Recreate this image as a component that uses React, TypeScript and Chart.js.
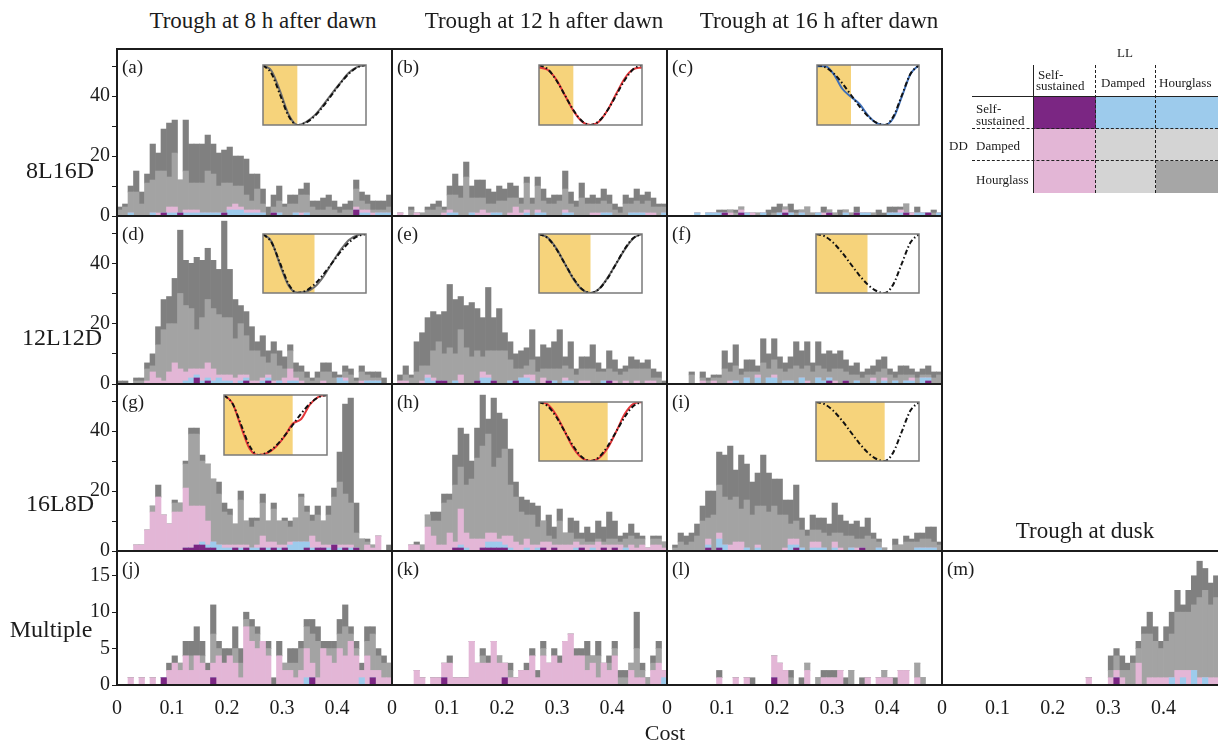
import React, { useEffect, useRef } from 'react';
import { Chart, registerables } from 'chart.js';
Chart.register(...registerables);

const FONT = '"Liberation Serif", "Times New Roman", serif';

// ---------- histogram bins (cost) ----------
const binCenters = Array.from({ length: 50 }, (_, i) => Math.round((0.005 + i * 0.01) * 1000) / 1000);
const xTickLabels = ['0', '0.1', '0.2', '0.3', '0.4'];
const yTickLabelsMain = ['0', '', '20', '', '40', ''];
const yTickLabelsMulti = ['0', '5', '10', '15'];

// layer colours (bottom -> top)
const layerNames = ['Self-sustained/Self-sustained', 'Self-sustained DD / other LL', 'Other DD / Self-sustained LL', 'Damped', 'Hourglass'];
const layerColors = ['#7b2683', '#9dcbec', '#e3b6d6', '#a3a3a3', '#808080'];

// ---------- (a) 8L16D, trough 8 h ----------
const aSS = [0,0,0,0,0,0,0,0,1,0, 0,1,0,0,0,0,0,0,0,1, 0,0,0,0,0,0,0,0,1,0, 0,0,0,0,0,0,0,0,0,0, 0,0,0,2,0,0,0,0,0,0];
const aBL = [0,0,1,0,0,0,1,0,0,1, 1,0,1,1,1,1,1,1,1,0, 2,2,2,1,1,1,1,0,0,1, 0,0,1,0,1,0,0,0,0,0, 0,0,0,0,1,1,0,1,1,1];
const aPK = [0,0,0,0,0,0,0,1,0,2, 2,0,1,1,1,0,0,0,0,0, 1,2,1,1,1,1,0,0,0,0, 0,0,0,1,0,0,0,0,0,0, 0,0,0,1,1,1,1,0,0,0];
const aLG = [2,3,7,8,4,11,11,14,14,10, 18,11,13,9,9,10,14,13,9,10, 8,6,7,5,3,7,3,0,2,4, 3,4,3,6,6,3,2,2,3,2, 1,2,2,6,3,2,1,1,1,2];
const aDG = [1,1,2,7,4,3,12,6,14,18, 11,0,17,13,13,13,12,10,11,11, 12,10,10,12,9,5,5,3,4,5, 1,3,3,2,4,2,3,4,4,3, 2,2,3,3,3,3,3,3,3,4];

// ---------- (b) 8L16D, trough 12 h ----------
const bSS = [0,0,0,0,0,0,0,0,0,0, 0,0,0,0,0,0,0,0,0,0, 0,0,0,0,0,0,0,0,0,0, 0,0,0,0,0,0,0,0,0,0, 0,0,0,0,0,0,0,0,0,0];
const bBL = [0,0,0,0,0,0,0,0,0,0, 1,1,0,0,1,0,0,0,1,1, 0,0,0,0,1,0,1,1,0,0, 0,1,1,0,0,0,0,0,1,1, 0,0,0,1,1,1,0,0,0,1];
const bPK = [0,1,0,0,1,0,0,0,0,1, 1,0,0,0,0,1,2,1,0,0, 0,1,3,1,1,0,1,0,0,0, 0,1,0,0,0,0,1,1,0,0, 0,0,0,0,0,0,1,1,0,0];
const bLG = [0,0,0,2,0,1,2,2,3,1, 5,6,6,13,5,5,4,3,3,4, 5,5,3,3,9,4,8,4,4,4, 5,7,3,3,6,4,3,3,4,3, 2,1,4,3,4,3,4,2,3,2];
const bDG = [0,0,0,1,0,0,1,2,2,1, 3,7,4,5,4,6,6,5,4,5, 4,5,4,2,2,2,3,4,2,3, 2,6,4,2,5,2,3,2,4,3, 2,2,3,2,4,3,3,3,1,1];

// ---------- (c) 8L16D, trough 16 h ----------
const cSS = [0,0,0,0,0,0,0,0,0,0, 1,0,0,1,0,0,0,0,0,0, 0,1,0,0,0,0,0,0,0,1, 0,0,0,0,1,0,0,0,0,0, 0,0,0,1,0,0,0,1,0,0];
const cBL = [0,0,0,0,0,1,0,1,1,1, 0,0,0,0,1,0,0,1,0,0, 1,0,1,0,1,0,0,1,0,0, 0,0,1,0,0,1,1,0,0,0, 1,1,1,0,0,1,1,0,0,1];
const cPK = [0,0,0,0,0,0,0,0,0,0, 0,1,0,1,0,1,0,0,0,0, 0,1,0,0,0,0,0,0,1,0, 0,0,0,0,0,0,0,0,0,0, 0,0,1,0,1,0,0,0,0,0];
const cLG = [0,0,0,0,0,0,0,0,0,0, 0,1,1,1,0,0,1,0,0,1, 0,1,0,1,1,3,1,0,0,1, 1,0,1,1,0,0,0,1,0,0, 0,0,0,3,0,0,0,0,1,0];
const cDG = [0,0,0,0,0,0,0,0,0,1, 1,0,1,0,0,0,0,0,2,2, 3,0,3,1,0,0,0,0,2,0, 0,2,0,0,2,0,0,0,2,1, 2,2,1,0,0,2,0,0,1,0];

// ---------- (d) 12L12D, trough 8 h ----------
const dSS = [0,0,0,0,0,0,0,0,0,0, 0,0,0,0,2,0,1,0,0,0, 0,0,0,1,0,0,0,1,0,0, 0,0,0,0,0,0,0,0,0,0, 0,0,0,0,0,0,0,0,0,0];
const dBL = [0,0,0,0,0,0,0,0,0,0, 0,0,1,2,1,1,1,1,2,1, 1,0,1,1,0,0,1,1,0,1, 0,1,1,0,0,0,0,0,0,0, 2,1,0,0,0,1,1,1,0,0];
const dPK = [0,0,0,0,0,1,4,2,1,4, 7,5,3,3,2,4,5,4,1,2, 2,2,2,1,1,1,1,1,1,0, 2,4,1,1,0,0,0,1,0,0, 0,1,0,0,1,0,0,0,0,0];
const dLG = [0,0,0,1,1,4,2,11,17,16, 13,25,22,20,13,17,21,20,20,19, 19,13,17,13,10,10,7,4,9,5, 3,6,2,3,2,1,2,3,4,2, 0,2,3,1,3,2,1,1,0,0];
const dDG = [1,1,0,1,1,2,4,6,10,9, 15,21,15,15,24,19,17,16,15,32, 16,13,6,8,8,3,7,4,4,5, 4,2,3,2,2,1,2,3,3,2, 1,2,2,1,2,1,2,2,2,0];

// ---------- (e) 12L12D, trough 12 h ----------
const eSS = [0,0,0,0,0,0,0,0,1,1, 0,0,0,0,0,1,0,0,1,0, 0,0,1,0,0,0,0,0,1,0, 0,0,0,0,0,0,0,0,0,1, 0,0,0,0,0,0,0,0,0,0];
const eBL = [0,0,0,0,0,0,2,1,0,0, 0,1,0,0,0,0,2,2,0,0, 0,1,0,2,2,1,0,0,0,1, 0,1,1,0,0,0,0,0,1,0, 0,0,0,0,0,0,0,0,0,0];
const ePK = [0,1,1,0,0,1,1,1,0,0, 0,0,3,0,0,0,2,1,0,0, 0,0,0,0,1,2,0,2,0,0, 0,1,0,0,1,1,0,0,0,0, 1,0,1,0,1,0,1,1,0,0];
const eLG = [0,0,2,2,4,5,3,9,13,9, 12,9,15,12,9,10,5,8,10,11, 11,7,4,3,3,5,4,3,4,4, 5,4,4,3,4,4,5,4,3,4, 3,3,3,5,4,5,4,1,2,0];
const eDG = [0,2,3,1,10,11,16,13,9,14, 21,18,11,14,18,14,13,21,11,14, 6,6,5,6,6,10,5,8,7,9, 13,3,9,2,4,4,8,3,1,6, 4,2,2,4,3,2,3,3,2,1];

// ---------- (f) 12L12D, trough 16 h ----------
const fSS = [0,0,0,0,0,0,0,0,0,0, 0,0,0,0,0,0,0,0,0,0, 0,0,0,0,0,0,0,0,0,1, 0,0,1,0,0,0,0,0,0,0, 0,0,0,0,0,0,0,1,0,0];
const fBL = [0,0,0,0,0,0,0,0,0,0, 0,0,1,0,2,0,2,0,2,2, 0,1,1,0,2,0,0,2,1,1, 0,0,0,0,1,0,0,1,0,1, 0,1,0,1,1,0,2,1,0,0];
const fPK = [0,0,0,0,0,0,1,0,1,0, 0,1,0,0,0,0,1,0,0,1, 0,0,0,0,0,1,0,0,0,0, 1,0,0,0,0,0,0,1,0,1, 0,0,0,0,1,0,0,0,0,0];
const fLG = [0,0,0,0,3,0,1,1,1,2, 5,3,5,3,2,4,1,7,3,5, 5,3,4,6,3,5,4,4,4,2, 4,5,3,3,2,2,3,1,4,3, 3,1,3,2,1,2,1,1,2,3];
const fDG = [0,0,0,0,1,0,2,1,1,1, 6,3,7,2,4,4,2,8,5,7, 4,3,4,8,6,8,3,8,5,7, 5,6,4,3,4,2,2,3,4,4, 2,2,3,3,2,2,2,3,2,1];

// ---------- (g) 16L8D, trough 8 h ----------
const gSS = [0,0,0,0,0,0,0,0,0,0, 0,0,1,1,2,2,1,1,0,0, 0,1,0,1,0,0,1,0,1,0, 1,0,0,0,1,0,1,1,0,2, 0,1,0,1,0,0,0,0,0,0];
const gBL = [0,0,0,0,0,0,0,0,0,0, 0,0,0,0,0,1,1,2,2,1, 1,0,1,0,1,1,0,1,0,1, 0,2,3,3,2,1,0,0,1,0, 1,0,1,0,0,0,0,0,0,0];
const gPK = [0,0,0,2,2,7,13,18,12,9, 13,13,20,14,13,12,8,0,0,1, 1,1,1,1,0,1,4,2,2,1, 1,1,0,0,0,4,2,1,1,0, 1,1,1,0,0,2,1,5,0,0];
const gLG = [0,0,0,0,0,0,2,0,0,0, 3,3,8,24,24,15,19,21,17,11, 10,7,15,8,7,8,11,7,11,8, 8,5,8,15,10,5,9,8,10,16, 21,17,14,5,4,1,1,0,0,0];
const gDG = [0,0,0,0,0,0,0,4,0,0, 1,0,1,2,2,2,0,0,4,3, 2,0,3,0,3,1,3,0,2,0, 1,2,0,1,2,2,3,0,3,3, 10,30,35,10,0,1,0,0,0,2];

// ---------- (h) 16L8D, trough 12 h ----------
const hSS = [0,0,0,0,0,0,0,0,0,0, 0,1,1,0,0,0,1,1,1,1, 1,0,0,0,0,0,0,1,0,1, 0,0,0,0,1,0,0,0,1,0, 1,0,0,0,0,0,0,0,0,0];
const hBL = [0,0,0,0,0,0,0,0,0,0, 0,0,1,1,0,0,0,2,2,2, 1,1,0,0,1,0,1,0,0,0, 0,0,0,1,0,0,1,0,0,0, 0,0,1,0,0,0,0,0,0,0];
const hPK = [0,0,0,2,2,0,8,5,2,2, 6,2,12,5,4,4,3,3,3,1, 3,4,3,2,3,2,1,2,3,1, 2,2,2,2,1,2,1,3,1,2, 1,2,0,2,1,2,1,2,2,1];
const hLG = [0,0,0,0,0,2,4,5,8,14, 11,19,14,16,20,27,31,33,22,27, 29,17,15,11,8,10,6,7,2,2, 8,4,4,1,2,1,1,1,1,2, 2,1,3,3,3,2,0,2,2,2];
const hDG = [0,0,0,0,1,0,0,3,3,3, 2,10,13,17,6,10,17,5,23,15, 10,12,5,5,5,4,7,0,7,4, 4,0,5,6,2,5,3,6,5,9, 6,2,2,4,2,1,0,1,1,0];

// ---------- (i) 16L8D, trough 16 h ----------
const iSS = [0,0,0,0,0,0,0,1,0,1, 0,0,0,0,0,0,0,0,0,0, 0,0,0,1,0,0,0,0,0,0, 0,0,0,0,0,1,0,0,0,0, 0,0,0,0,0,0,0,0,0,0];
const iBL = [0,0,0,0,0,0,0,1,0,3, 2,0,0,0,1,0,1,0,0,0, 0,0,2,1,1,0,1,1,1,0, 1,0,0,1,0,0,0,0,1,0, 0,0,0,0,0,1,1,1,1,0];
const iPK = [0,0,0,0,0,0,0,2,0,2, 0,2,3,3,0,0,1,0,0,0, 0,1,2,2,0,0,2,2,0,0, 2,1,0,0,1,0,0,0,0,0, 0,0,0,0,0,0,0,0,0,0];
const iLG = [0,1,3,2,3,5,10,7,12,16, 16,15,15,11,16,12,13,15,13,15, 12,11,5,6,6,5,4,4,5,5, 3,5,5,4,3,3,5,4,2,1, 0,2,2,3,3,2,3,3,2,2];
const iDG = [0,1,3,3,3,4,5,9,8,11, 14,18,9,18,12,11,11,17,13,9, 12,5,8,12,4,2,5,4,5,4, 10,6,5,4,6,4,6,2,1,0, 0,2,0,2,1,3,2,4,5,1];

// ---------- (j) Multiple, trough 8 h ----------
const jSS = [0,0,0,0,0,0,0,0,1,0, 0,0,0,0,0,0,0,1,0,0, 0,0,0,0,0,0,0,0,0,0, 0,0,0,0,0,1,0,0,0,0, 0,0,0,0,0,0,1,0,0,0];
const jBL = [0,0,0,0,0,0,0,0,0,0, 0,0,0,0,0,0,0,0,0,0, 0,0,0,0,0,0,0,0,0,0, 0,0,0,0,1,0,0,0,0,0, 0,0,0,0,1,0,0,0,0,0];
const jPK = [0,0,1,0,1,0,1,0,0,2, 3,2,4,2,4,3,2,2,4,3, 4,3,1,8,6,5,6,4,0,4, 2,2,1,2,4,2,1,5,4,3, 5,4,6,4,1,4,1,2,1,1];
const jLG = [0,0,0,0,0,0,0,0,0,0, 0,1,0,2,0,1,0,4,1,0, 0,2,2,1,2,2,0,1,0,0, 1,1,2,3,3,4,5,0,1,2, 2,4,1,1,0,2,5,2,2,2];
const jDG = [0,0,0,0,0,0,0,0,0,1, 1,0,2,2,4,2,1,4,1,2, 1,3,2,1,1,1,0,1,1,2, 0,2,2,1,1,2,2,1,1,1, 2,3,1,1,1,2,1,1,1,0];

// ---------- (k) Multiple, trough 12 h ----------
const kSS = [0,0,0,0,0,0,0,0,0,1, 0,0,0,0,0,0,0,0,0,0, 1,0,0,0,0,0,0,0,0,0, 0,0,0,0,0,0,0,0,0,0, 0,0,0,0,0,0,0,0,0,0];
const kBL = [0,0,0,0,0,0,0,0,0,0, 0,0,0,0,0,0,0,0,0,0, 0,0,0,0,0,0,0,0,0,0, 0,0,0,0,0,0,0,0,0,0, 0,0,0,0,0,0,0,0,0,1];
const kPK = [0,0,0,0,2,1,0,1,1,2, 3,1,1,1,6,3,3,3,6,3, 2,1,1,2,2,4,1,4,3,4, 3,6,7,4,4,2,3,1,3,2, 4,0,0,2,1,1,0,2,3,1];
const kLG = [0,0,0,0,0,0,0,0,0,0, 0,0,0,0,0,0,1,0,0,1, 0,1,0,0,0,0,0,1,0,0, 0,0,0,0,0,2,1,3,0,1, 1,1,1,1,4,1,1,1,2,0];
const kDG = [0,0,0,0,0,0,0,0,0,0, 1,0,0,0,0,0,1,1,0,0, 0,1,0,0,1,1,1,1,0,1, 1,0,0,1,1,2,0,2,0,1, 1,1,1,0,5,1,0,1,1,0];

// ---------- (l) Multiple, trough 16 h ----------
const lSS = [0,0,0,0,0,0,0,0,0,0, 0,0,0,0,0,0,0,0,0,1, 0,0,0,0,0,0,0,0,0,0, 0,0,0,0,0,0,0,0,0,0, 0,0,0,0,0,0,0,0,0,0];
const lBL = [0,0,0,0,0,0,0,0,0,0, 0,0,0,0,0,0,0,0,0,0, 0,0,0,0,0,0,0,0,0,0, 0,0,0,0,0,0,0,0,0,0, 0,0,0,0,0,0,0,0,0,0];
const lPK = [0,0,0,0,0,0,0,0,0,1, 0,0,1,0,1,0,0,0,0,3, 3,2,0,0,0,2,0,0,1,1, 1,2,0,0,0,0,1,0,1,1, 1,0,2,2,0,1,0,0,0,0];
const lLG = [0,0,0,0,0,0,0,0,0,0, 0,0,0,0,0,0,0,0,0,0, 0,0,1,0,0,1,0,1,0,0, 0,0,0,2,0,0,0,0,0,1, 0,0,0,0,0,2,1,0,0,0];
const lDG = [0,0,0,0,0,0,0,0,0,1, 0,0,0,0,0,1,0,0,0,0, 0,0,1,0,1,0,0,0,1,1, 1,0,1,0,0,1,0,0,0,0, 0,1,0,0,0,0,0,0,0,0];

// ---------- (m) Multiple, trough at dusk ----------
const mSS = [0,0,0,0,0,0,0,0,0,0, 0,0,0,0,0,0,0,0,0,0, 0,0,0,0,0,0,0,0,0,0, 0,1,0,0,0,0,0,0,0,0, 0,0,0,0,0,0,0,0,0,0];
const mBL = [0,0,0,0,0,0,0,0,0,0, 0,0,0,0,0,0,0,0,0,0, 0,0,0,0,0,0,0,0,0,0, 0,0,0,0,0,0,0,0,0,0, 0,1,0,1,0,2,0,1,0,0];
const mPK = [0,0,0,0,0,0,0,0,0,0, 0,0,0,0,0,0,0,0,0,0, 0,0,0,0,0,0,1,0,0,0, 1,1,1,0,0,3,0,1,1,1, 1,0,2,1,2,0,1,0,1,1];
const mLG = [0,0,0,0,0,0,0,0,0,0, 0,0,0,0,0,0,0,0,0,0, 0,0,0,0,0,0,0,0,0,0, 1,2,1,2,3,2,7,6,5,4, 5,6,8,8,8,9,11,12,10,11];
const mDG = [0,0,0,0,0,0,0,0,0,0, 0,0,0,0,0,0,0,0,0,0, 0,0,0,0,0,0,0,0,0,0, 2,1,2,1,1,1,1,3,2,1, 2,3,3,1,3,4,5,3,3,3];

// ---------- inset curves (hours after dawn, relative level) ----------
const insetHours = [0, 2, 4, 6, 8, 10, 12, 14, 16, 18, 20, 22, 24];
const target8 = [1, 0.854, 0.5, 0.146, 0, 0.038, 0.146, 0.309, 0.5, 0.691, 0.854, 0.962, 1];
const target12 = [1, 0.933, 0.75, 0.5, 0.25, 0.067, 0, 0.067, 0.25, 0.5, 0.75, 0.933, 1];
const target16 = [1, 0.962, 0.854, 0.691, 0.5, 0.309, 0.146, 0.038, 0, 0.146, 0.5, 0.854, 1];
const fitA = [1, 0.9, 0.56, 0.17, 0.0, 0.05, 0.16, 0.33, 0.52, 0.7, 0.87, 0.97, 1];
const fitB = [0.96, 0.92, 0.76, 0.5, 0.24, 0.06, 0, 0.06, 0.25, 0.52, 0.78, 0.93, 0.96];
const fitC = [0.98, 0.98, 0.84, 0.6, 0.47, 0.35, 0.16, 0.03, 0, 0.12, 0.48, 0.85, 1];
const fitD = [1, 0.87, 0.47, 0.12, 0.01, 0.02, 0.1, 0.27, 0.5, 0.72, 0.9, 0.98, 1];
const fitE = [1, 0.94, 0.76, 0.5, 0.24, 0.06, 0, 0.07, 0.26, 0.5, 0.74, 0.93, 1];
const fitG = [1, 0.86, 0.46, 0.1, 0.0, 0.03, 0.13, 0.3, 0.52, 0.6, 0.84, 0.97, 1];
const fitH = [1, 0.96, 0.78, 0.5, 0.22, 0.05, 0, 0.05, 0.22, 0.5, 0.8, 0.97, 1];

// ---------- layout ----------
const COL_X = [117, 392, 667, 942];
const COL_W = [275, 275, 275, 277];
const ROW_Y = [49, 216, 384, 551];
const ROW_H = [167, 168, 167, 134];

const panels = [
  { letter: '(a)', col: 0, row: 0, series: [aSS, aBL, aPK, aLG, aDG] },
  { letter: '(b)', col: 1, row: 0, series: [bSS, bBL, bPK, bLG, bDG] },
  { letter: '(c)', col: 2, row: 0, series: [cSS, cBL, cPK, cLG, cDG] },
  { letter: '(d)', col: 0, row: 1, series: [dSS, dBL, dPK, dLG, dDG] },
  { letter: '(e)', col: 1, row: 1, series: [eSS, eBL, ePK, eLG, eDG] },
  { letter: '(f)', col: 2, row: 1, series: [fSS, fBL, fPK, fLG, fDG] },
  { letter: '(g)', col: 0, row: 2, series: [gSS, gBL, gPK, gLG, gDG] },
  { letter: '(h)', col: 1, row: 2, series: [hSS, hBL, hPK, hLG, hDG] },
  { letter: '(i)', col: 2, row: 2, series: [iSS, iBL, iPK, iLG, iDG] },
  { letter: '(j)', col: 0, row: 3, series: [jSS, jBL, jPK, jLG, jDG] },
  { letter: '(k)', col: 1, row: 3, series: [kSS, kBL, kPK, kLG, kDG] },
  { letter: '(l)', col: 2, row: 3, series: [lSS, lBL, lPK, lLG, lDG] },
  { letter: '(m)', col: 3, row: 3, series: [mSS, mBL, mPK, mLG, mDG] },
];

const insets = [
  { x: 263, y: 65, w: 103, h: 60, light: 8, target: target8, fit: fitA, fitColor: '#6e6e6e' },
  { x: 539, y: 65, w: 103, h: 60, light: 8, target: target12, fit: fitB, fitColor: '#e5383b' },
  { x: 817, y: 65, w: 102, h: 60, light: 8, target: target16, fit: fitC, fitColor: '#3f6fb8' },
  { x: 263, y: 234, w: 103, h: 59, light: 12, target: target8, fit: fitD, fitColor: '#6e6e6e' },
  { x: 539, y: 234, w: 103, h: 59, light: 12, target: target12, fit: fitE, fitColor: '#6e6e6e' },
  { x: 816, y: 234, w: 103, h: 59, light: 12, target: target16, fit: null, fitColor: '' },
  { x: 224, y: 395, w: 103, h: 60, light: 16, target: target8, fit: fitG, fitColor: '#e5383b' },
  { x: 539, y: 402, w: 103, h: 59, light: 16, target: target12, fit: fitH, fitColor: '#e5383b' },
  { x: 816, y: 402, w: 103, h: 59, light: 16, target: target16, fit: null, fitColor: '' },
];

const borderPlugin = {
  id: 'panelBorder',
  afterDraw(chart: any) {
    const { ctx, chartArea: a } = chart;
    ctx.save();
    ctx.strokeStyle = '#1c1c1c';
    ctx.lineWidth = 2;
    ctx.strokeRect(a.left, a.top, a.right - a.left, a.bottom - a.top);
    ctx.restore();
  },
};

const PAD = 16;
const YW = 44;
const XH = 30;

function HistPanel({ p }: any) {
  const ref = useRef<HTMLCanvasElement>(null);
  const isLeft = p.col === 0;
  const isBottom = p.row === 3;
  const left = COL_X[p.col] - PAD - (isLeft ? YW : 0);
  const top = ROW_Y[p.row] - PAD;
  const width = COL_W[p.col] + 2 * PAD + (isLeft ? YW : 0);
  const height = ROW_H[p.row] + 2 * PAD + (isBottom ? XH : 0);
  useEffect(() => {
    const chart = new Chart(ref.current as HTMLCanvasElement, {
      type: 'bar',
      data: {
        datasets: layerColors.map((color, k) => ({
          label: layerNames[k],
          data: binCenters.map((x, i) => ({ x, y: p.series[k][i] })),
          backgroundColor: color,
          borderWidth: 0,
          barPercentage: 1,
          categoryPercentage: 1,
        })),
      } as any,
      options: {
        animation: false,
        responsive: false,
        devicePixelRatio: 1,
        layout: { padding: PAD },
        plugins: { legend: { display: false }, tooltip: { enabled: false } },
        scales: {
          x: {
            type: 'linear', min: 0, max: 0.5, offset: false, stacked: true,
            display: isBottom,
            grid: { display: false }, border: { display: false },
            afterFit: (s: any) => { if (isBottom) { s.height = XH; } s.paddingLeft = 0; s.paddingRight = 0; },
            ticks: {
              stepSize: 0.1, includeBounds: false, autoSkip: false, maxRotation: 0, padding: 4,
              font: { family: FONT, size: 20 }, color: '#1c1c1c',
              callback: (_v: any, i: number) => xTickLabels[i] ?? '',
            },
          },
          y: {
            type: 'linear', min: 0, max: isBottom ? 18.4 : 55.7, stacked: true,
            display: isLeft,
            border: { display: false },
            grid: { drawOnChartArea: false, drawTicks: true, tickLength: 5, color: '#1c1c1c', lineWidth: 1 },
            afterFit: (s: any) => { if (isLeft) s.width = YW; },
            ticks: {
              stepSize: isBottom ? 5 : 10, includeBounds: false, padding: 2,
              font: { family: FONT, size: 20 }, color: '#1c1c1c',
              callback: (_v: any, i: number) => (isBottom ? yTickLabelsMulti[i] : yTickLabelsMain[i]) ?? '',
            },
          },
        },
      } as any,
      plugins: [borderPlugin],
    });
    return () => chart.destroy();
  }, []);
  return (
    <canvas ref={ref} width={width} height={height}
      style={{ position: 'absolute', left, top, width, height }} />
  );
}

const IPAD = 4;
function InsetChart({ s }: any) {
  const ref = useRef<HTMLCanvasElement>(null);
  useEffect(() => {
    const lightPlugin = {
      id: 'light',
      beforeDatasetsDraw(chart: any) {
        const { ctx, chartArea: a, scales } = chart;
        const x1 = scales.x.getPixelForValue(s.light);
        ctx.save();
        ctx.fillStyle = '#f6d37b';
        ctx.fillRect(a.left, a.top, x1 - a.left, a.bottom - a.top);
        ctx.restore();
      },
      afterDraw(chart: any) {
        const { ctx, chartArea: a } = chart;
        ctx.save();
        ctx.strokeStyle = '#7a7a7a';
        ctx.lineWidth = 1.5;
        ctx.strokeRect(a.left, a.top, a.right - a.left, a.bottom - a.top);
        ctx.restore();
      },
    };
    const datasets: any[] = [
      {
        data: insetHours.map((h, i) => ({ x: h, y: s.target[i] })),
        borderColor: '#111', borderWidth: 2, borderDash: [5, 2.5, 1.5, 2.5],
        pointRadius: 0, cubicInterpolationMode: 'monotone', fill: false,
      },
    ];
    if (s.fit) {
      datasets.push({
        data: insetHours.map((h, i) => ({ x: h, y: s.fit[i] })),
        borderColor: s.fitColor, borderWidth: 2,
        pointRadius: 0, cubicInterpolationMode: 'monotone', fill: false,
      });
    }
    const chart = new Chart(ref.current as HTMLCanvasElement, {
      type: 'line',
      data: { datasets },
      options: {
        animation: false, responsive: false, devicePixelRatio: 1,
        layout: { padding: IPAD },
        plugins: { legend: { display: false }, tooltip: { enabled: false } },
        scales: {
          x: { type: 'linear', min: 0, max: 24, display: false },
          y: { type: 'linear', min: 0, max: 1, display: false },
        },
      } as any,
      plugins: [lightPlugin],
    });
    return () => chart.destroy();
  }, []);
  const w = s.w + 2 * IPAD, h = s.h + 2 * IPAD;
  return (
    <canvas ref={ref} width={w} height={h}
      style={{ position: 'absolute', left: s.x - IPAD, top: s.y - IPAD, width: w, height: h }} />
  );
}

function T({ x, y, size, children, anchor = 'middle' }: any) {
  const tx = anchor === 'middle' ? '-50%' : anchor === 'end' ? '-100%' : '0';
  return (
    <div style={{
      position: 'absolute', left: x, top: y, transform: `translate(${tx}, -50%)`,
      fontSize: size, lineHeight: 1, whiteSpace: 'nowrap', color: '#1c1c1c',
    }}>{children}</div>
  );
}

const legendCells = [
  { x: 1034, y: 97, w: 62, h: 32, c: '#7b2683' },
  { x: 1096, y: 97, w: 122, h: 32, c: '#9dcbec' },
  { x: 1034, y: 129, w: 62, h: 64, c: '#e3b6d6' },
  { x: 1096, y: 129, w: 122, h: 32, c: '#d4d4d4' },
  { x: 1096, y: 161, w: 60, h: 32, c: '#d4d4d4' },
  { x: 1156, y: 161, w: 62, h: 32, c: '#a6a6a6' },
];

function Legend() {
  return (
    <>
      {legendCells.map((c, i) => (
        <div key={i} style={{ position: 'absolute', left: c.x, top: c.y, width: c.w, height: c.h, background: c.c }} />
      ))}
      <div style={{ position: 'absolute', left: 1033, top: 65, width: 0, height: 128, borderLeft: '1.5px solid #222' }} />
      <div style={{ position: 'absolute', left: 1095, top: 65, width: 0, height: 128, borderLeft: '1.5px dashed #222' }} />
      <div style={{ position: 'absolute', left: 1155, top: 65, width: 0, height: 128, borderLeft: '1.5px dashed #222' }} />
      <div style={{ position: 'absolute', left: 972, top: 96, width: 246, height: 0, borderTop: '1.5px solid #222' }} />
      <div style={{ position: 'absolute', left: 972, top: 128, width: 246, height: 0, borderTop: '1.5px dashed #222' }} />
      <div style={{ position: 'absolute', left: 972, top: 160, width: 246, height: 0, borderTop: '1.5px dashed #222' }} />
      <T x={1125} y={52} size={13}>LL</T>
      <T x={1038} y={74} size={13} anchor="start">Self-</T>
      <T x={1036} y={85} size={13} anchor="start">sustained</T>
      <T x={1101} y={82} size={13} anchor="start">Damped</T>
      <T x={1159} y={82} size={13} anchor="start">Hourglass</T>
      <T x={976} y={108} size={13} anchor="start">Self-</T>
      <T x={976} y={120} size={13} anchor="start">sustained</T>
      <T x={949} y={145} size={13} anchor="start">DD</T>
      <T x={976} y={145} size={13} anchor="start">Damped</T>
      <T x={976} y={179} size={13} anchor="start">Hourglass</T>
    </>
  );
}

export default function App() {
  return (
    <div style={{
      position: 'absolute', left: 0, top: 0, width: 1218, height: 744, overflow: 'hidden',
      background: '#fff', fontFamily: FONT,
    }}>
      {panels.map((p, i) => <HistPanel key={i} p={p} />)}
      {insets.map((s, i) => <InsetChart key={i} s={s} />)}
      {panels.map((p, i) => (
        <T key={'l' + i} x={COL_X[p.col] + 5} y={ROW_Y[p.row] + 17} size={19} anchor="start">{p.letter}</T>
      ))}
      <T x={263} y={20} size={23}>Trough at 8 h after dawn</T>
      <T x={544} y={20} size={23}>Trough at 12 h after dawn</T>
      <T x={819} y={20} size={23}>Trough at 16 h after dawn</T>
      <T x={1085} y={530} size={23}>Trough at dusk</T>
      <T x={60} y={170} size={24}>8L16D</T>
      <T x={62} y={337} size={24}>12L12D</T>
      <T x={60} y={503} size={24}>16L8D</T>
      <T x={51} y={629} size={24}>Multiple</T>
      <T x={665} y={733} size={22}>Cost</T>
      <Legend />
    </div>
  );
}
